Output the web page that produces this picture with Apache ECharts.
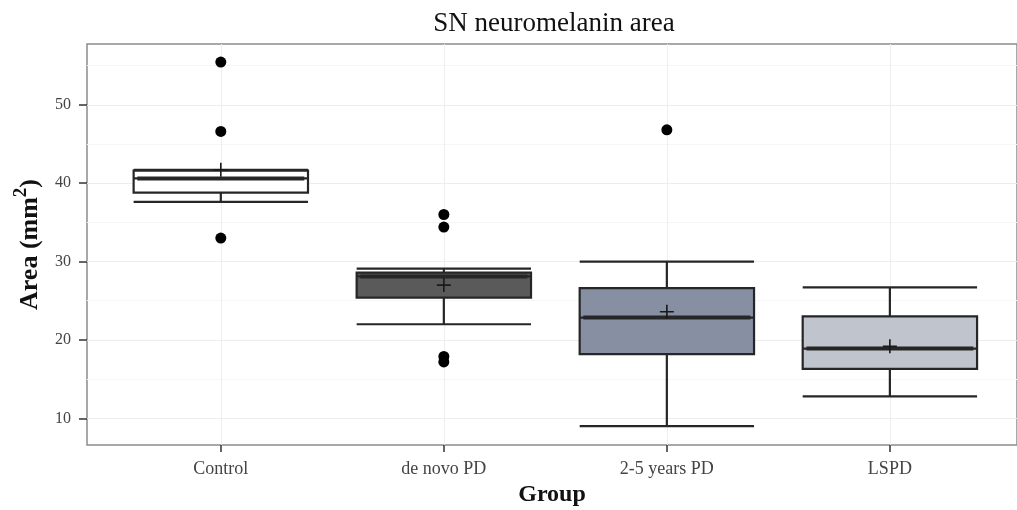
<!DOCTYPE html>
<html>
<head>
<meta charset="utf-8">
<script src="https://cdn.jsdelivr.net/npm/echarts@6/dist/echarts.min.js"></script>
<style>
  html, body { margin: 0; padding: 0; background: #fff; }
  #chart { width: 1017px; height: 510px; }
</style>
</head>
<body>
<div id="chart"></div>
<script>
// groups on the x axis
const groups = ['Control', 'de novo PD', '2-5 years PD', 'LSPD']

// box statistics per group (mm^2)
const whiskerLow = [37.6, 22.0, 9.0, 12.8]
const q1 = [38.8, 25.4, 18.2, 16.3]
const median = [40.6, 28.1, 22.85, 18.9]
const q3 = [41.6, 28.6, 26.6, 23.0]
const whiskerHigh = [41.7, 29.1, 30.0, 26.7]
const means = [41.7, 27.0, 23.6, 19.2]

// outliers: [group index, value]
const outliers = [
    [0, 55.45], [0, 46.6], [0, 33.0],
    [1, 36.0], [1, 34.4], [1, 17.9], [1, 17.2],
    [2, 46.8]
]

const yTicks = [10, 20, 30, 40, 50]
const yMinorTicks = [15, 25, 35, 45, 55]
const xTicks = [0, 1, 2, 3]

const boxFills = ['#ffffff', '#5a5a5a', '#878fa3', '#c0c4cd']

const serif = 'Liberation Serif'
const chart = echarts.init(document.getElementById('chart'))

const plusPath = 'path://M10.6,0H13.4V10.6H24V13.4H13.4V24H10.6V13.4H0V10.6H10.6Z'

const option = {
    animation: false,
    backgroundColor: '#fff',
    title: {
        text: 'SN neuromelanin area',
        left: 549, top: 5, textAlign: 'center',
        textStyle: { fontFamily: serif, fontSize: 27, fontWeight: 'normal', color: '#111' }
    },
    grid: {
        left: 87, right: 0, top: 44, bottom: 65,
        outerBoundsMode: 'none',
        show: true, borderColor: '#8c8c8c', borderWidth: 1.5, backgroundColor: '#fff'
    },
    xAxis: {
        type: 'value',
        min: -0.6, max: 3.57,
        name: 'Group',
        nameLocation: 'middle',
        nameGap: 37,
        nameTextStyle: { fontFamily: serif, fontSize: 24, fontWeight: 'bold', color: '#111' },
        axisLine: { show: false, onZero: false },
        axisTick: { show: true, customValues: xTicks, length: 7, lineStyle: { color: '#333', width: 1.5 } },
        axisLabel: {
            customValues: xTicks,
            formatter: v => groups[Math.round(v)] || '',
            fontFamily: serif, fontSize: 18, color: '#444', margin: 15
        },
        splitLine: { show: true, lineStyle: { color: '#eeeeee', width: 1 } }
    },
    yAxis: [
        {
            type: 'value',
            min: 6.6, max: 57.75,
            name: '{b|Area (mm}{s|2}{b|)}',
            nameLocation: 'middle',
            nameRotate: 90,
            nameGap: 44,
            nameTextStyle: {
                rich: {
                    b: { fontFamily: serif, fontSize: 26, fontWeight: 'bold', color: '#111', lineHeight: 31, verticalAlign: 'bottom' },
                    s: { fontFamily: serif, fontSize: 19, fontWeight: 'bold', color: '#111', lineHeight: 19, verticalAlign: 'top' }
                }
            },
            axisLine: { show: false, onZero: false },
            axisTick: { show: true, customValues: yTicks, length: 8, lineStyle: { color: '#333', width: 1.5 } },
            axisLabel: {
                customValues: yTicks,
                fontFamily: serif, fontSize: 16, color: '#444', margin: 16
            },
            splitLine: { show: true, lineStyle: { color: '#ededed', width: 1 } }
        },
        {
            type: 'value',
            min: 6.6, max: 57.75,
            position: 'left',
            axisLine: { show: false, onZero: false },
            axisTick: { show: false, customValues: yMinorTicks },
            axisLabel: { show: false, customValues: yMinorTicks },
            splitLine: { show: true, lineStyle: { color: '#f6f6f6', width: 1 } }
        }
    ],
    series: [
        {
            type: 'boxplot',
            yAxisIndex: 0,
            boxWidth: ['75%', '75%'],
            data: groups.map((g, i) => ({
                value: [i, whiskerLow[i], q1[i], median[i], q3[i], whiskerHigh[i]],
                itemStyle: { color: boxFills[i], borderColor: '#262626', borderWidth: 2.2 }
            })),
            z: 3
        },
        {
            // thicker median bar, as in the original
            type: 'scatter',
            yAxisIndex: 0,
            symbol: 'rect',
            symbolSize: [167, 4],
            itemStyle: { color: '#262626', opacity: 1 },
            data: median.map((m, i) => [i, m]),
            z: 4
        },
        {
            type: 'scatter',
            yAxisIndex: 0,
            symbol: 'circle',
            symbolSize: 11,
            itemStyle: { color: '#000', opacity: 1 },
            data: outliers,
            z: 4
        },
        {
            type: 'scatter',
            yAxisIndex: 0,
            symbol: plusPath,
            symbolSize: 14,
            itemStyle: { color: '#1a1a1a', opacity: 1 },
            data: means.map((m, i) => [i, m]),
            z: 5
        }
    ]
}

chart.setOption(option)
window.addEventListener('resize', () => chart.resize())
</script>
</body>
</html>
